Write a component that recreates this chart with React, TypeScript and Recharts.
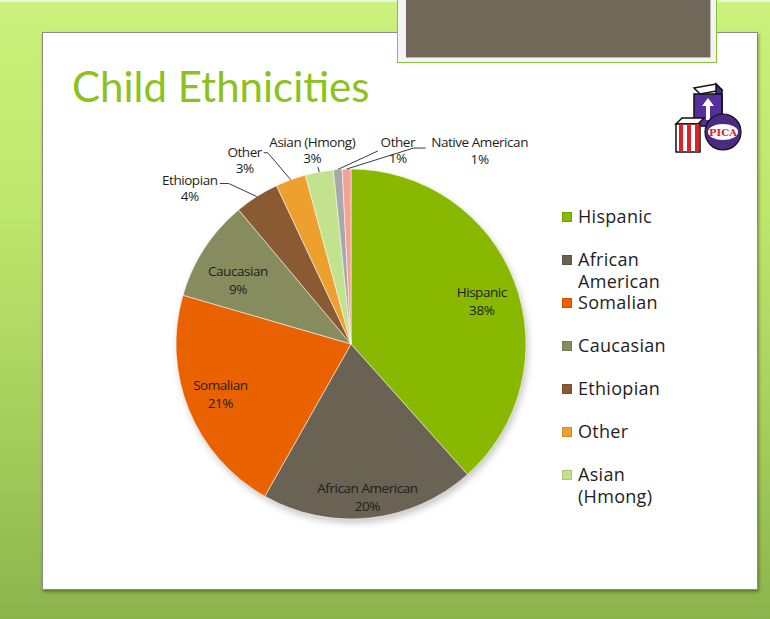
import React from 'react';
import { PieChart, Pie, Cell, Legend } from 'recharts';

const categories = ['Hispanic', 'African American', 'Somalian', 'Caucasian', 'Ethiopian', 'Other', 'Asian (Hmong)', 'Other', 'Native American'];
const shares = [38.4, 19.8, 21.3, 9.4, 4.1, 2.8, 2.6, 0.8, 0.8];
const sliceColors = ['#88b800', '#6a6252', '#ea6100', '#878c5f', '#8a5a33', '#eea02e', '#c2e28e', '#a8a8a8', '#f4a196'];
const legendCount = 7;

const data = categories.map((name, i) => ({ name, value: shares[i], order: i }));

type LabelCfg = { inside: true; r: number; da: number } | { inside: false; tx: number; ty: number; pts: number[][] };
const labelCfg: LabelCfg[] = [
  { inside: true, r: 0.785, da: -3 },
  { inside: true, r: 0.88, da: 0 },
  { inside: true, r: 0.8, da: -1 },
  { inside: true, r: 0.74, da: 4 },
  { inside: false, tx: -67, ty: -12, pts: [[-28, -13], [-37, -13]] },
  { inside: false, tx: -46, ty: -23, pts: [[-23, -27], [-27, -27]] },
  { inside: false, tx: -7, ty: -25, pts: [[-1.5, -5]] },
  { inside: false, tx: 60, ty: -22.5, pts: [[40, -18.5]] },
  { inside: false, tx: 133, ty: -22, pts: [[67, -21], [79, -21]] },
];

const RAD = Math.PI / 180;
const labelFont = { fontFamily: 'Open Sans', fontSize: 13.5, letterSpacing: -0.45, fill: '#1e1e1e' } as const;

const renderLabel = (props: any) => {
  const { cx, cy, midAngle, outerRadius, percent, index, name } = props;
  const cfg = labelCfg[index];
  const pct = Math.round(percent * 100) + '%';
  if (cfg.inside) {
    const r = outerRadius * cfg.r;
    const a = midAngle + cfg.da;
    const x = cx + r * Math.cos(-a * RAD);
    const y = cy + r * Math.sin(-a * RAD);
    return (
      <g key={'l' + index}>
        <text x={x} y={y - 4.5} textAnchor="middle" {...labelFont}>{name}</text>
        <text x={x} y={y + 13.5} textAnchor="middle" {...labelFont}>{pct}</text>
      </g>
    );
  }
  const x0 = cx + outerRadius * Math.cos(-midAngle * RAD);
  const y0 = cy + outerRadius * Math.sin(-midAngle * RAD);
  const pts = [[x0, y0], ...cfg.pts.map(([dx, dy]) => [x0 + dx, y0 + dy])].map((p) => p.join(',')).join(' ');
  return (
    <g key={'l' + index}>
      <polyline points={pts} fill="none" stroke="#3a3a3a" strokeWidth={1} />
      <text x={x0 + cfg.tx} y={y0 + cfg.ty} textAnchor="middle" {...labelFont}>{name}</text>
      <text x={x0 + cfg.tx} y={y0 + cfg.ty + 16.5} textAnchor="middle" {...labelFont}>{pct}</text>
    </g>
  );
};

const LegendContent = (props: any) => {
  const all = [...(props.payload || [])].filter((it: any) => it && it.type !== 'none');
  all.sort((a: any, b: any) => (a?.payload?.order ?? 0) - (b?.payload?.order ?? 0));
  const items = all.slice(0, legendCount);
  return (
    <div style={{ position: 'relative', width: 150, height: 320 }}>
      {items.map((it: any, i: number) => (
        <div key={i} style={{ position: 'absolute', left: 0, top: i * 43 + 1, width: 140, display: 'flex', alignItems: 'flex-start' }}>
          <span style={{ display: 'inline-block', flex: '0 0 10px', width: 10, height: 10, marginTop: 7, marginRight: 6, background: it.color, boxShadow: 'inset 0 0 0 1px rgba(0,0,0,0.12)' }} />
          <span style={{ fontFamily: 'Open Sans', fontSize: 18, lineHeight: '22px', letterSpacing: 0.3, color: '#1e1e1e', width: 118 }}>{it.value}</span>
        </div>
      ))}
    </div>
  );
};

const Logo = () => (
  <svg width={70} height={80} style={{ position: 'absolute', left: 672, top: 78 }} viewBox="0 0 70 80">
    <polygon points="22,10 44,6 50,12 28,16" fill="#ffffff" stroke="#111" strokeWidth={1.5} />
    <polygon points="44,6 50,12 50,44 44,40" fill="#4b2a82" stroke="#111" strokeWidth={1.5} />
    <rect x={22} y={16} width={28} height={32} fill="#55309a" stroke="#111" strokeWidth={1.5} />
    <polygon points="36,20 42,28 38,28 38,42 34,42 34,28 30,28" fill="#fff" />
    <polygon points="4,46 10,40 32,40 26,46" fill="#fff" stroke="#111" strokeWidth={1.5} />
    <rect x={4} y={46} width={24} height={28} fill="#fff" stroke="#111" strokeWidth={1.5} />
    <rect x={7} y={46} width={4} height={28} fill="#d8232a" />
    <rect x={15} y={46} width={4} height={28} fill="#d8232a" />
    <rect x={23} y={46} width={4} height={28} fill="#d8232a" />
    <circle cx={51} cy={54} r={18} fill="#4b2a82" stroke="#111" strokeWidth={1.2} />
    <ellipse cx={51} cy={54} rx={15} ry={8} fill="#fff" />
    <text x={51} y={58} textAnchor="middle" fontFamily="DejaVu Serif" fontWeight="bold" fontSize={10} fill="#d8232a">PICA</text>
  </svg>
);

export default function App() {
  return (
    <div style={{ position: 'absolute', left: 0, top: 0, width: 770, height: 619, overflow: 'hidden', background: 'linear-gradient(180deg, #cbf27c 0%, #bde66c 35%, #a5cd5c 70%, #8bb44c 100%)' }}>
      <style>{'.pie-shadow { filter: blur(2.5px); }'}</style>
      <div style={{ position: 'absolute', left: 0, top: 0, width: 770, height: 2, background: '#eef8e0' }} />
      <div style={{ position: 'absolute', left: 42, top: 32, width: 714, height: 556, background: '#ffffff', border: '1px solid #8a8a8a', boxShadow: '1px 2px 3px rgba(0,0,0,0.35)' }} />
      <div style={{ position: 'absolute', left: 397, top: -2, width: 320, height: 65, background: '#f4f4f4', border: '1px solid #86c23a', boxSizing: 'border-box' }} />
      <div style={{ position: 'absolute', left: 406, top: 0, width: 304, height: 57, background: '#706858', borderRight: '1px solid #bbb', borderBottom: '1px solid #bbb' }} />
      <div style={{ position: 'absolute', left: 72, top: 61, fontFamily: 'Lato', fontSize: 42, color: '#8cc21c', whiteSpace: 'nowrap', letterSpacing: 0 }}>Child Ethnicities</div>
      <Logo />
      <div style={{ position: 'absolute', left: 0, top: 0 }}>
        <PieChart width={770} height={619} margin={{ top: 0, right: 0, bottom: 0, left: 0 }}>
          <Pie
            className="pie-shadow"
            data={data}
            dataKey="value"
            nameKey="name"
            cx={353}
            cy={348}
            outerRadius={175}
            startAngle={90}
            endAngle={-270}
            fill="#000000"
            fillOpacity={0.22}
            stroke="none"
            legendType="none"
            isAnimationActive={false}
          />
          <Pie
            data={data}
            dataKey="value"
            nameKey="name"
            cx={351}
            cy={344}
            outerRadius={175}
            startAngle={90}
            endAngle={-270}
            stroke="rgba(255,255,255,0.55)"
            strokeWidth={1}
            label={renderLabel}
            labelLine={false}
            isAnimationActive={false}
          >
            {data.map((_, i) => (
              <Cell key={i} fill={sliceColors[i]} />
            ))}
          </Pie>
          <Legend
            content={<LegendContent />}
            wrapperStyle={{ position: 'absolute', left: 562, top: 204, width: 150, height: 320 }}
          />
        </PieChart>
      </div>
    </div>
  );
}
